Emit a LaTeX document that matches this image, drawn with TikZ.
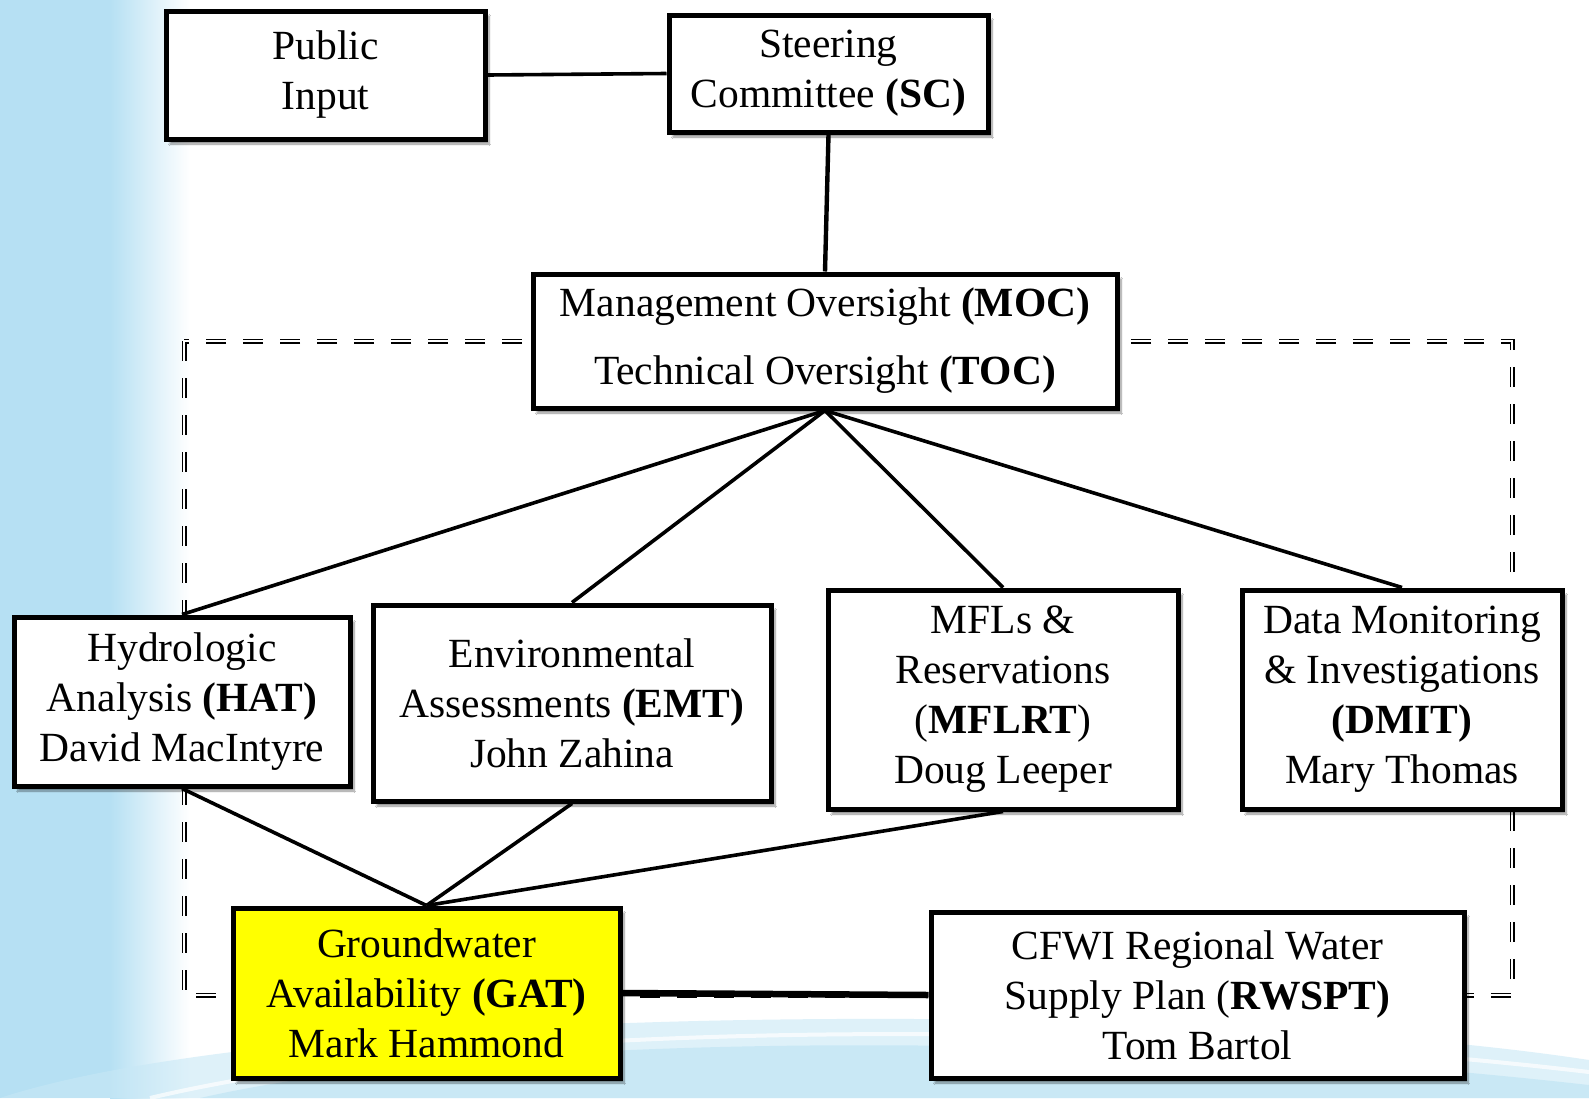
\documentclass[tikz,border=0pt]{standalone}
\usepackage{fontspec}
\setmainfont{Liberation Serif}
\usetikzlibrary{shadows.blur}
\definecolor{waterA}{RGB}{182,224,243}
\definecolor{waterB}{RGB}{200,232,246}
\definecolor{gatyellow}{RGB}{255,255,0}
\tikzset{
  orgbox/.style={draw=black, line width=5pt, fill=white, align=center,
    inner sep=0pt, font=\fontsize{41.5}{50}\selectfont,
    blur shadow={shadow xshift=4pt, shadow yshift=-5pt, shadow blur steps=8, shadow opacity=45}},
  link/.style={line width=3.6pt, black},
  grouprect/.style={line width=1.4pt, double=white, double distance=2.2pt, dash pattern=on 20pt off 17pt}
}
\begin{document}
\begin{tikzpicture}[x=1pt,y=-1pt]
\useasboundingbox (0,0) rectangle (1589,1098);
% background
\fill[white] (0,0) rectangle (1589,1098);
\fill[waterA] (0,0) rectangle (110,1098);
\shade[left color=waterA, right color=white] (110,0) rectangle (190,1098);
\fill[waterB, opacity=0.6] (0,1098) .. controls (300,1000) and (1200,1000) .. (1589,1060) -- (1589,1098) -- cycle;
\fill[waterA, opacity=0.5] (200,1098) .. controls (500,1030) and (1100,1030) .. (1589,1085) -- (1589,1098) -- cycle;
\draw[white, line width=4pt, opacity=0.7] (150,1098) .. controls (500,1015) and (1150,1020) .. (1589,1072);
% dashed group
\draw[grouprect] (184,341) rectangle (1512,995);
% boxes
\node[orgbox, minimum width=319pt, minimum height=128pt] (pi) at (325.5,75) {Public\\Input};
\node[orgbox, minimum width=319pt, minimum height=117pt] (sc) at (828.5,73.5) {Steering\\Committee \textbf{(SC)}};
\node[orgbox, minimum width=584pt, minimum height=134pt, font=\fontsize{41.5}{68}\selectfont] (moc) at (825,341) {Management Oversight \textbf{(MOC)}\\Technical Oversight \textbf{(TOC)}};
\node[orgbox, minimum width=336pt, minimum height=169pt] (hat) at (182,701.5) {Hydrologic\\Analysis \textbf{(HAT)}\\David MacIntyre};
\node[orgbox, minimum width=398pt, minimum height=196pt] (emt) at (572,703) {Environmental\\Assessments \textbf{(EMT)}\\John Zahina};
\node[orgbox, minimum width=350pt, minimum height=219pt] (mfl) at (1003,699.5) {MFLs \&\\Reservations\\(\textbf{MFLRT})\\Doug Leeper};
\node[orgbox, minimum width=320pt, minimum height=219pt] (dmit) at (1402,699.5) {Data Monitoring\\\& Investigations\\\textbf{(DMIT)}\\Mary Thomas};
\node[orgbox, fill=gatyellow, minimum width=387pt, minimum height=170pt] (gat) at (426.5,993) {Groundwater\\Availability \textbf{(GAT)}\\Mark Hammond};
\node[orgbox, minimum width=533pt, minimum height=166pt] (rws) at (1197.5,995) {CFWI Regional Water\\Supply Plan (\textbf{RWSPT)}\\Tom Bartol};
% connectors
\draw[link] (pi.east) -- (sc.west);
\draw[link, line width=4.4pt] (sc.south) -- (moc.north);
\draw[link] (moc.south) -- (hat.north);
\draw[link] (moc.south) -- (emt.north);
\draw[link] (moc.south) -- (mfl.north);
\draw[link] (moc.south) -- (dmit.north);
\draw[link] (hat.south) -- (gat.north);
\draw[link] (emt.south) -- (gat.north);
\draw[link] (mfl.south) -- (gat.north);
\draw[link, line width=6.5pt] (gat.east) -- (rws.west);
\end{tikzpicture}
\end{document}
